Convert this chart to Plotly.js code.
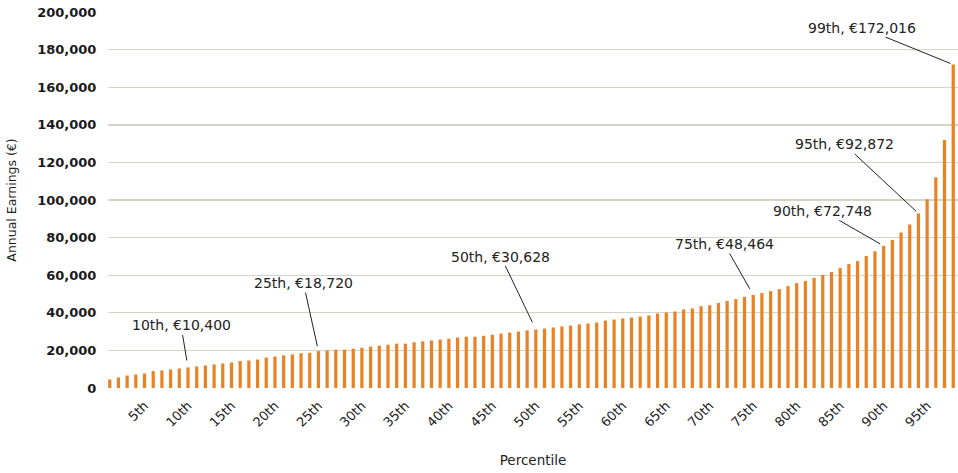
<!DOCTYPE html>
<html>
<head>
<meta charset="utf-8">
<script src="https://cdn.plot.ly/plotly-3.0.1.min.js"></script>
<style>
html,body{margin:0;padding:0;background:#fff;}
#chart{width:958px;height:473px;}
</style>
</head>
<body>
<div id="chart"></div>
<script>
// Bar positions (left to right) and annual earnings
const barIndex = [1,2,3,4,5,6,7,8,9,10,11,12,13,14,15,16,17,18,19,20,21,22,23,24,25,26,27,28,29,30,31,32,33,34,35,36,37,38,39,40,41,42,43,44,45,46,47,48,49,50,51,52,53,54,55,56,57,58,59,60,61,62,63,64,65,66,67,68,69,70,71,72,73,74,75,76,77,78,79,80,81,82,83,84,85,86,87,88,89,90,91,92,93,94,95,96,97,98];
const earnings = [4550,5550,6650,7150,7750,8950,9350,9850,10400,10950,
  11450,11950,12550,13050,13550,14350,14650,15150,16250,16750,
  17350,17850,18500,18720,19600,20000,20400,20400,20900,21400,
  22000,22500,23000,23600,23600,24300,24800,25300,25700,26200,
  26800,27300,27300,27800,28300,28900,29450,30000,30628,31100,
  31600,32200,32700,33200,33800,34300,34800,35900,36400,37000,
  37500,38000,38600,39600,40200,40700,41800,42300,43500,44000,
  45200,46300,47300,48464,49500,50500,51600,52600,54200,55800,
  56900,58500,60100,61700,63800,65900,67500,70200,72748,75600,
  78800,82700,87000,92872,100400,112000,131900,172016];

const tickPositions = [5,10,15,20,25,30,35,40,45,50,55,60,65,70,75,80,85,90,95];
const tickLabels = ['5th','10th','15th','20th','25th','30th','35th','40th','45th','50th','55th','60th','65th','70th','75th','80th','85th','90th','95th'];

// Callouts: bar they point to and their text
const calloutBars = [10,25,50,75,90,94,98];
const calloutTexts = ['10th, €10,400','25th, €18,720','50th, €30,628','75th, €48,464','90th, €72,748','95th, €92,872','99th, €172,016'];

// layout-only: text offsets (px) and standoffs
const calloutOffsets = [[-7,-42,7],[-15,-68,5],[-35,-73,8],[-29,-51,7],[-61,-35,4],[-74,-69,3],[-91,-37,3]];

const FONT = 'DejaVu Sans, sans-serif';
const annotations = calloutBars.map((b,i)=>({
  x: b, y: earnings[b-1], xref:'x', yref:'y',
  text: calloutTexts[i],
  showarrow: true, arrowhead: 0, arrowwidth: 1, arrowcolor: '#222',
  ax: calloutOffsets[i][0], ay: calloutOffsets[i][1], standoff: calloutOffsets[i][2],
  font: {family: FONT, size: 14, color: '#222'}
}));

const trace = {
  type: 'bar', x: barIndex, y: earnings,
  marker: {color: '#E98125'}, width: 0.37,
  hoverinfo: 'skip'
};

const layout = {
  width: 958, height: 473,
  margin: {l: 107.5, r: 0, t: 12, b: 85},
  paper_bgcolor: '#fff', plot_bgcolor: '#fff',
  showlegend: false,
  font: {family: FONT, color: '#222'},
  xaxis: {
    type: 'linear', range: [0.8, 98.55], automargin: true,
    tickmode: 'array', tickvals: tickPositions, ticktext: tickLabels,
    tickangle: -45, ticks: 'outside', ticklen: 4, tickcolor: 'rgba(0,0,0,0)',
    showgrid: false, zeroline: false, showline: false,
    tickfont: {family: FONT, size: 13, color: '#222'},
    title: {text: 'Percentile', standoff: 26, font: {family: FONT, size: 13.5, color: '#222'}}
  },
  yaxis: {
    range: [0, 200000], dtick: 20000, tickformat: ',d', automargin: true,
    ticks: 'outside', ticklen: 8, tickcolor: 'rgba(0,0,0,0)',
    showgrid: true, gridcolor: '#d6d4c8', gridwidth: 1.4,
    zeroline: false, showline: false,
    tickfont: {family: FONT, size: 13, color: '#1a1a1a', weight: 'bold'},
    title: {text: 'Annual Earnings (€)', standoff: 17, font: {family: FONT, size: 12.5, color: '#222'}}
  },
  annotations: annotations
};

Plotly.newPlot('chart', [trace], layout, {staticPlot: true, displayModeBar: false});
</script>
</body>
</html>
